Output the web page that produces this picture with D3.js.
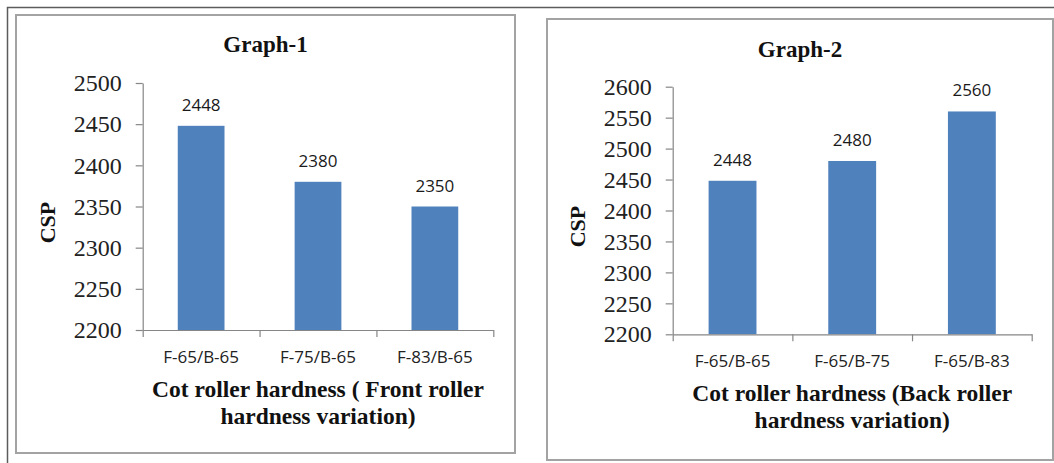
<!DOCTYPE html>
<html>
<head>
<meta charset="utf-8">
<script src="https://cdn.jsdelivr.net/npm/d3@7/dist/d3.min.js"></script>
<style>
  html, body { margin: 0; padding: 0; background: #fff; }
  svg { display: block; }
  .serif { font-family: "Liberation Serif", "Times New Roman", Times, "DejaVu Serif", serif; }
  .sans { font-family: "Open Sans", "Noto Sans", sans-serif; }
</style>
</head>
<body>
<svg id="chart" width="1054" height="463"></svg>
<script>
// Graph-1: front roller hardness variation
const categories1 = ["F-65/B-65", "F-75/B-65", "F-83/B-65"];
const values1 = [2448, 2380, 2350];
const yTicks1 = [2200, 2250, 2300, 2350, 2400, 2450, 2500];

// Graph-2: back roller hardness variation
const categories2 = ["F-65/B-65", "F-65/B-75", "F-65/B-83"];
const values2 = [2448, 2480, 2560];
const yTicks2 = [2200, 2250, 2300, 2350, 2400, 2450, 2500, 2550, 2600];

const titles = ["Graph-1", "Graph-2"];
const yTitle = "CSP";
const xTitles1 = ["Cot roller hardness ( Front roller", "hardness variation)"];
const xTitles2 = ["Cot roller hardness (Back roller", "hardness variation)"];

const BAR = "#4f81bd";
const AXIS = "#868686";

const svg = d3.select("#chart");

// outer page rule lines
svg.append("path")
  .attr("d", "M7.5,463 V7.5 H1054")
  .attr("fill", "none")
  .attr("stroke", "#5c5c5c")
  .attr("stroke-width", 1.5);

function drawPanel(opt) {
  const g = svg.append("g");

  // frame around the chart
  g.append("rect")
    .attr("x", opt.box[0]).attr("y", opt.box[1])
    .attr("width", opt.box[2] - opt.box[0]).attr("height", opt.box[3] - opt.box[1])
    .attr("fill", "#fff")
    .attr("stroke", "#a3a3a3")
    .attr("stroke-width", 2);

  const [L, T, R, B] = opt.plot;

  const y = d3.scaleLinear()
    .domain([opt.yTicks[0], opt.yTicks[opt.yTicks.length - 1]])
    .range([B, T]);

  const x = d3.scaleBand()
    .domain(opt.categories)
    .range([L, R])
    .paddingInner(0.6)
    .paddingOuter(0.3);

  // category boundaries for the x-axis tick marks
  const xb = d3.scaleLinear().domain([0, opt.categories.length]).range([L, R]);

  // bars
  g.selectAll("rect.bar")
    .data(opt.values)
    .join("rect")
    .attr("class", "bar")
    .attr("x", (d, i) => x(opt.categories[i]))
    .attr("y", d => y(d))
    .attr("width", x.bandwidth())
    .attr("height", d => B - y(d))
    .attr("fill", BAR);

  // value labels
  g.selectAll("text.val")
    .data(opt.values)
    .join("text")
    .attr("class", "val sans")
    .attr("x", (d, i) => x(opt.categories[i]) + x.bandwidth() / 2)
    .attr("y", d => y(d) - 15)
    .attr("text-anchor", "middle")
    .style("font-size", "17px")
    .attr("fill", "#1a1a1a")
    .text(d => d);

  // y axis
  const yAxis = g.append("g")
    .attr("transform", `translate(${L},0)`)
    .call(d3.axisLeft(y).tickValues(opt.yTicks).tickSize(7).tickSizeOuter(0).tickPadding(14).tickFormat(d3.format("d")));
  yAxis.attr("font-family", null).attr("font-size", null);
  yAxis.selectAll("path, line").attr("stroke", AXIS).attr("stroke-width", 1.2);
  yAxis.selectAll("text")
    .attr("class", "serif")
    .style("font-size", "24px")
    .attr("fill", "#222");

  // x axis with ticks at category boundaries
  const xAxis = g.append("g")
    .attr("transform", `translate(0,${B})`)
    .call(d3.axisBottom(xb).tickValues(d3.range(opt.categories.length + 1)).tickSize(7).tickSizeOuter(0).tickFormat(""));
  xAxis.selectAll("path, line").attr("stroke", AXIS).attr("stroke-width", 1.2);

  // category labels
  g.selectAll("text.cat")
    .data(opt.categories)
    .join("text")
    .attr("class", "cat sans")
    .attr("x", d => x(d) + x.bandwidth() / 2)
    .attr("y", B + 33)
    .attr("text-anchor", "middle")
    .style("font-size", "17px")
    .attr("fill", "#222")
    .text(d => d);

  // chart title
  g.append("text")
    .attr("class", "serif")
    .attr("x", (opt.box[0] + opt.box[2]) / 2)
    .attr("y", opt.titleY)
    .attr("text-anchor", "middle")
    .style("font-weight", "bold")
    .style("font-size", "23px")
    .attr("fill", "#111")
    .text(opt.title);

  // y axis title
  g.append("text")
    .attr("class", "serif")
    .attr("transform", `translate(${L - 88},${(T + B) / 2 + 16}) rotate(-90)`)
    .attr("text-anchor", "middle")
    .style("font-weight", "bold")
    .style("font-size", "22px")
    .attr("fill", "#111")
    .text(yTitle);

  // x axis title (two lines)
  g.selectAll("text.xt")
    .data(opt.xTitle)
    .join("text")
    .attr("class", "xt serif")
    .attr("x", (L + R) / 2)
    .attr("y", (d, i) => B + 67 + i * 26.5)
    .attr("text-anchor", "middle")
    .style("font-weight", "bold")
    .style("font-size", "23.5px")
    .attr("fill", "#111")
    .text(d => d);
}

drawPanel({
  box: [16, 15, 515, 453],
  plot: [142.7, 83, 493.3, 330],
  categories: categories1,
  values: values1,
  yTicks: yTicks1,
  title: titles[0],
  titleY: 52,
  xTitle: xTitles1
});

drawPanel({
  box: [547, 19, 1053, 460],
  plot: [672.7, 86.7, 1031.7, 334.3],
  categories: categories2,
  values: values2,
  yTicks: yTicks2,
  title: titles[1],
  titleY: 57,
  xTitle: xTitles2
});
</script>
</body>
</html>
